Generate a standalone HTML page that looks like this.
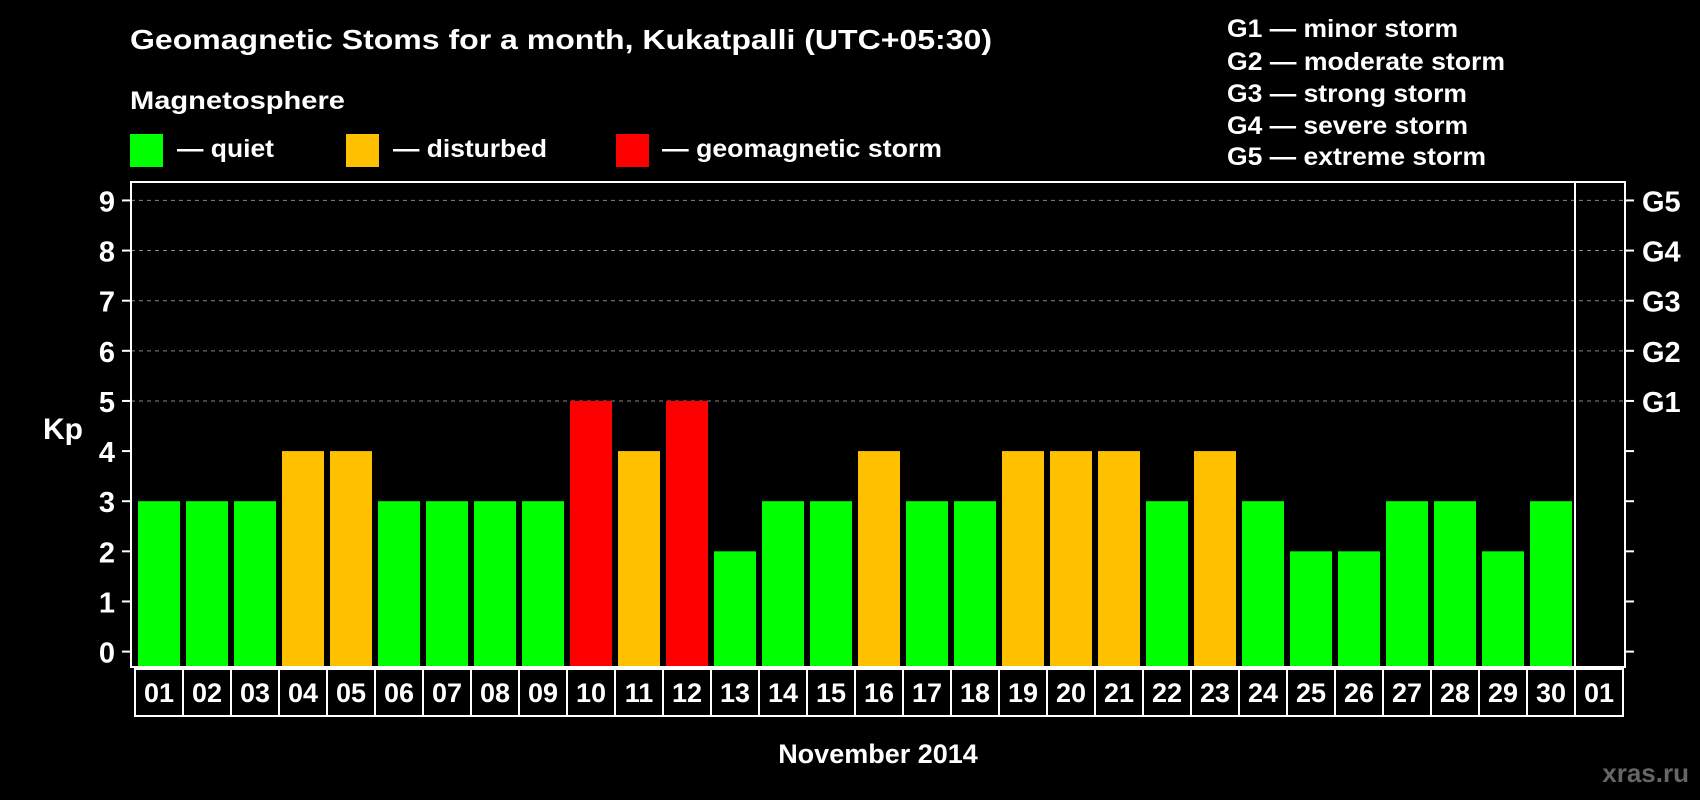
<!DOCTYPE html>
<html><head><meta charset="utf-8"><style>
html,body{margin:0;padding:0;background:#000;}
svg{display:block;font-family:"Liberation Sans",sans-serif;font-weight:bold;}
</style></head><body>
<svg id="chart" width="1700" height="800" viewBox="0 0 1700 800">
<rect width="1700" height="800" fill="#000"/>
<text x="130" y="49" font-size="28" fill="#fff" textLength="862" lengthAdjust="spacingAndGlyphs">Geomagnetic Stoms for a month, Kukatpalli (UTC+05:30)</text>
<text x="130" y="109" font-size="25" fill="#fff" textLength="215" lengthAdjust="spacingAndGlyphs">Magnetosphere</text>
<g><rect x="130" y="134" width="33" height="33" fill="#00ff00"/><text x="177" y="157" font-size="25" fill="#fff" textLength="97" lengthAdjust="spacingAndGlyphs">— quiet</text></g>
<g><rect x="346" y="134" width="33" height="33" fill="#ffc000"/><text x="393" y="157" font-size="25" fill="#fff" textLength="154" lengthAdjust="spacingAndGlyphs">— disturbed</text></g>
<g><rect x="616" y="134" width="33" height="33" fill="#ff0000"/><text x="662" y="157" font-size="25" fill="#fff" textLength="280" lengthAdjust="spacingAndGlyphs">— geomagnetic storm</text></g>
<g font-size="25" fill="#fff">
<text x="1227" y="37" textLength="231" lengthAdjust="spacingAndGlyphs">G1 — minor storm</text>
<text x="1227" y="70" textLength="278" lengthAdjust="spacingAndGlyphs">G2 — moderate storm</text>
<text x="1227" y="102" textLength="240" lengthAdjust="spacingAndGlyphs">G3 — strong storm</text>
<text x="1227" y="134" textLength="241" lengthAdjust="spacingAndGlyphs">G4 — severe storm</text>
<text x="1227" y="165" textLength="259" lengthAdjust="spacingAndGlyphs">G5 — extreme storm</text>
</g>
<text x="63" y="439" font-size="30" fill="#fff" text-anchor="middle">Kp</text>
<text x="878" y="763" font-size="27" fill="#fff" text-anchor="middle">November 2014</text>
<text x="1689" y="782" font-size="26" fill="#666" text-anchor="end">xras.ru</text>
<g id="grid"></g><g id="bars"></g><g id="axes"></g>
</svg>
<script>
const days = ["01","02","03","04","05","06","07","08","09","10","11","12","13","14","15","16","17","18","19","20","21","22","23","24","25","26","27","28","29","30","01"];
const kpValues = [3,3,3,4,4,3,3,3,3,5,4,5,2,3,3,4,3,3,4,4,4,3,4,3,2,2,3,3,2,3];
const yTicks = ["0","1","2","3","4","5","6","7","8","9"];
const gLabels = ["G1","G2","G3","G4","G5"];
const NS="http://www.w3.org/2000/svg";
const plotL=131, plotR=1625, plotT=182, plotB=667, slotX0=135, slotW=48;
function y(v){return 651.6 - v*50.13;}
function xSlot(i){return slotX0 + i*slotW;}
function mk(tag, attrs, parent){const e=document.createElementNS(NS,tag);for(const k in attrs)e.setAttribute(k,attrs[k]);parent.appendChild(e);return e;}
const grid=document.getElementById('grid'), bars=document.getElementById('bars'), axes=document.getElementById('axes');
for(let v=5; v<=9; v++){
  const l=mk('line',{x1:plotL,x2:plotR,y1:y(v),y2:y(v),stroke:'#888','stroke-width':1,'stroke-dasharray':'4,4'},grid);
  
  
}
kpValues.forEach((v,i)=>{
  const c = v>=5?'#ff0000':(v>=4?'#ffc000':'#00ff00');
  const r=mk('rect',{x:xSlot(i)+3,y:y(v),width:42,height:plotB-y(v),fill:c},bars);
  
  
});
const fr=mk('rect',{x:plotL,y:plotT,width:plotR-plotL,height:plotB-plotT,fill:'none',stroke:'#fff','stroke-width':2},axes);


const dv=mk('line',{x1:xSlot(30),x2:xSlot(30),y1:plotT,y2:plotB,stroke:'#fff','stroke-width':2},axes);


yTicks.forEach((t,i)=>{
  const tk=mk('line',{x1:122,x2:plotL,y1:y(i),y2:y(i),stroke:'#fff','stroke-width':2},axes);
  
  
  const tr=mk('line',{x1:plotR,x2:1634,y1:y(i),y2:y(i),stroke:'#fff','stroke-width':2},axes);
  
  
  const tx=mk('text',{x:115,y:y(i)+11,'font-size':29,fill:'#fff','text-anchor':'end'},axes);
  tx.textContent=t;
  
  
});
gLabels.forEach((g,i)=>{
  const tx=mk('text',{x:1642,y:y(5+i)+11,'font-size':29,fill:'#fff'},axes);
  tx.textContent=g;
  
  
});
days.forEach((d,i)=>{
  const b=mk('rect',{x:xSlot(i),y:669,width:slotW,height:47,fill:'none',stroke:'#fff','stroke-width':2},axes);
  
  
  const tx=mk('text',{x:xSlot(i)+slotW/2,y:702,'font-size':27,fill:'#fff','text-anchor':'middle'},axes);
  tx.textContent=d;
  
  
});
</script>
</body></html>
